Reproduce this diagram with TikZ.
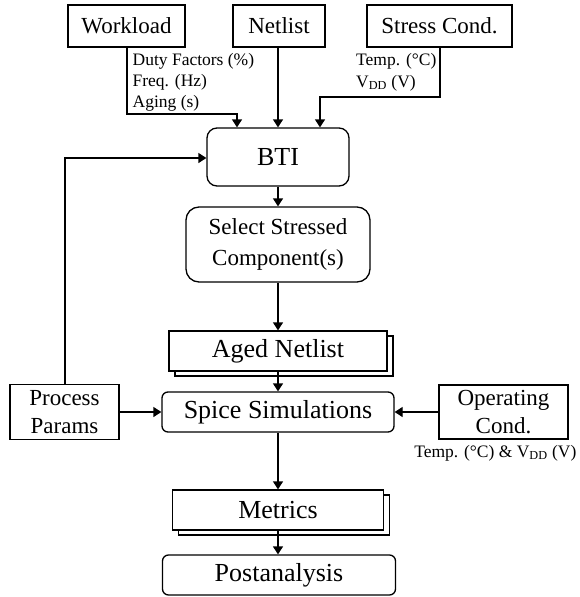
\documentclass[tikz,border=0pt]{standalone}
\usepackage{fontspec}
\setmainfont{Liberation Serif}
\usetikzlibrary{arrows.meta,shadows}
\begin{document}
\begin{tikzpicture}[x=1pt,y=-1pt,
  line width=1.3pt,
  arr/.style={-{Triangle[width=10pt,length=8pt]}},
  sq/.style={draw,fill=white,inner sep=0pt,align=center,font=\fontsize{23}{28}\selectfont},
  rnd/.style={draw,fill=white,inner sep=0pt,align=center,rounded corners=#1,font=\fontsize{26}{30}\selectfont},
  shad/.style={draw,fill=white,inner sep=0pt,align=center,font=\fontsize{26}{30}\selectfont,
    copy shadow={shadow xshift=6pt,shadow yshift=-5pt}},
  lbl/.style={inner sep=0pt,font=\fontsize{17.5}{21}\selectfont}
]
\useasboundingbox (0,0) rectangle (579,597);
% top inputs
\node[sq,minimum width=117pt,minimum height=42pt] (work) at (126.5,26) {Workload};
\node[sq,minimum width=92pt,minimum height=42pt] (net) at (279,26) {Netlist};
\node[sq,minimum width=145pt,minimum height=42pt] (stress) at (439.5,26) {Stress Cond.};
% main column
\node[rnd=10pt,minimum width=142pt,minimum height=58pt] (bti) at (278,157) {BTI};
\node[rnd=13pt,minimum width=184pt,minimum height=75pt,font=\fontsize{23}{31}\selectfont] (sel) at (278,244.5) {Select Stressed\\Component(s)};
\node[shad,minimum width=218pt,minimum height=40pt] (aged) at (278,351) {Aged Netlist};
\node[rnd=6pt,minimum width=232pt,minimum height=40pt] (spice) at (278,412) {Spice Simulations};
\node[shad,minimum width=211pt,minimum height=40pt] (met) at (278,510) {Metrics};
\node[rnd=6pt,minimum width=233pt,minimum height=40pt] (post) at (279,575) {Postanalysis};
% side boxes
\node[sq,minimum width=109pt,minimum height=55pt] (proc) at (64.5,412) {Process\\Params};
\node[sq,minimum width=129pt,minimum height=54pt] (oper) at (503.5,412) {Operating\\Cond.};
% coordinates
\coordinate (w1) at (127,114);
\coordinate (w2) at (237,114);
\coordinate (s1) at (440,97);
\coordinate (s2) at (320,97);
\coordinate (p1) at (65,158);
% connectors
\draw[arr] (work.south -| w1) -- (w1) -- (w2) -- (w2 |- bti.north);
\draw[arr] (net.south -| bti.north) -- (bti.north);
\draw[arr] (stress.south -| s1) -- (s1) -- (s2) -- (s2 |- bti.north);
\draw[arr] (bti.south) -- (bti.south |- sel.north);
\draw[arr] (sel.south -| aged.north) -- (aged.north);
\draw[arr] (aged.south) -- (spice.north);
\draw[arr] (spice.south) -- (spice.south |- met.north);
\draw[arr] (met.south) -- (met.south |- post.north);
\draw[arr] (proc.east) -- (proc.east -| spice.west);
\draw[arr] (oper.west) -- (oper.west -| spice.east);
\draw[arr] (proc.north -| p1) -- (p1) -- (p1 -| bti.west);
% labels
\node[lbl,anchor=base west] (l1) at (132,65) {Duty Factors (\%)};
\node[lbl,anchor=base west] (l2) at (132,86) {Freq. (Hz)};
\node[lbl,anchor=base west] (l3) at (132,107) {Aging (s)};
\node[lbl,anchor=base east] (l4) at (437,65) {Temp. (°C)};
\node[lbl,anchor=base west] (l5) at (l4.base west |- 0,87) {V\textsubscript{DD} (V)};
\node[lbl,anchor=base east] (l6) at (577,457) {Temp. (°C) \& V\textsubscript{DD} (V)};
\end{tikzpicture}
\end{document}
